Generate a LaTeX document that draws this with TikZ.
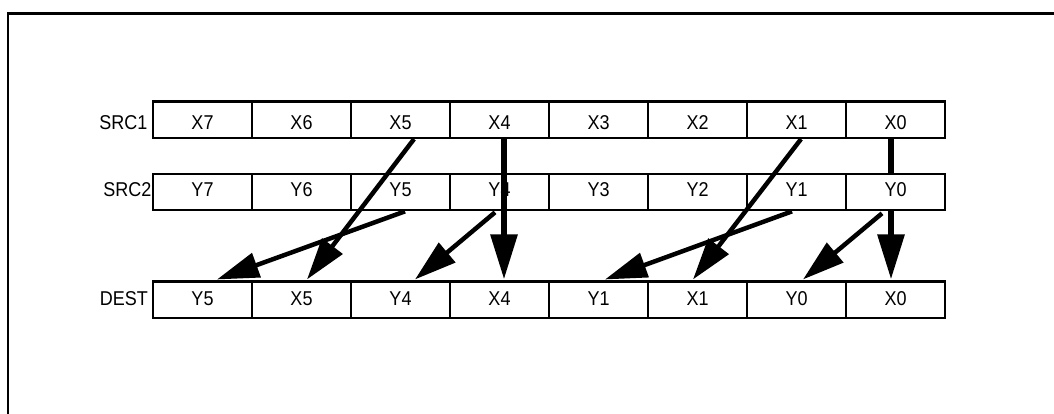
\documentclass[tikz,border=0pt]{standalone}
\usepackage{fontspec}
\setmainfont{Liberation Sans}
\newfontfamily\cellfont[FakeStretch=0.9]{Liberation Sans}
\usetikzlibrary{arrows.meta,calc,backgrounds}
\newcommand{\shtext}[2]{\raisebox{#1}[\height][\depth]{#2}}
\begin{document}
\begin{tikzpicture}[x=1pt,y=-1pt,
  cell/.style={draw,line width=2.2pt,fill=white,minimum width=99pt,minimum height=36.5pt,inner sep=0pt,
    font=\cellfont\fontsize{20}{22}\selectfont},
  rowlabel/.style={anchor=east,inner sep=0pt,font=\cellfont\fontsize{20}{22}\selectfont},
  diag/.style={line width=4.5pt,-{Triangle[length=42pt,width=25pt]}},
  vert/.style={line width=6pt,-{Triangle[length=45pt,width=26pt]}}]
\useasboundingbox (0,0) rectangle (1054,413);
\begin{scope}
\clip (0,0) rectangle (1054,413);
\draw[line width=2.7pt] (8,430) -- (8,13.3) -- (1070,13.3);
\end{scope}
% rows
\foreach \lab [count=\i from 0] in {X7,X6,X5,X4,X3,X2,X1,X0}
  \node[cell] (a\i) at (202.5+99*\i,119.7) {\shtext{-2.8pt}{\lab}};
\foreach \lab [count=\i from 0] in {Y7,Y6,Y5,Y4,Y3,Y2,Y1,Y0}
  \node[cell] (b\i) at (202.5+99*\i,192) {\shtext{2.5pt}{\lab}};
\foreach \lab [count=\i from 0] in {Y5,X5,Y4,X4,Y1,X1,Y0,X0}
  \node[cell] (d\i) at (202.5+99*\i,299.8) {\shtext{1.5pt}{\lab}};
\node[rowlabel] (l1) at (147.5,122.5) {SRC1};
\node[rowlabel] (l2) at (151.7,189.5) {SRC2};
\node[rowlabel] (l3) at (148,298.3) {DEST};
% arrows
\begin{scope}[on background layer]
\draw[vert] ($(a7.south)+(-4.5,0)$) -- ($(d7.north)+(-4.5,-1)$);
\end{scope}
\draw[diag] ($(a2.south)+(13.5,0)$) -- ($(d1.north)+(5.5,-1)$);
\draw[diag] ($(b2.south)+(4.5,0)$) -- ($(d0.north)+(14.5,-1)$);
\draw[vert] ($(a3.south)+(4.5,0)$) -- ($(d3.north)+(4.5,-1)$);
\draw[diag] ($(b3.south)+(-4.5,1)$) -- ($(d2.north)+(14.5,-1)$);
\draw[diag] ($(a6.south)+(4.5,0)$) -- ($(d5.north)+(-4.5,-1)$);
\draw[diag] ($(b6.south)+(-4.5,0)$) -- ($(d4.north)+(6.5,-1)$);
\draw[diag] ($(b7.south)+(-13.5,2)$) -- ($(d6.north)+(6.5,-1)$);
\end{tikzpicture}
\end{document}
